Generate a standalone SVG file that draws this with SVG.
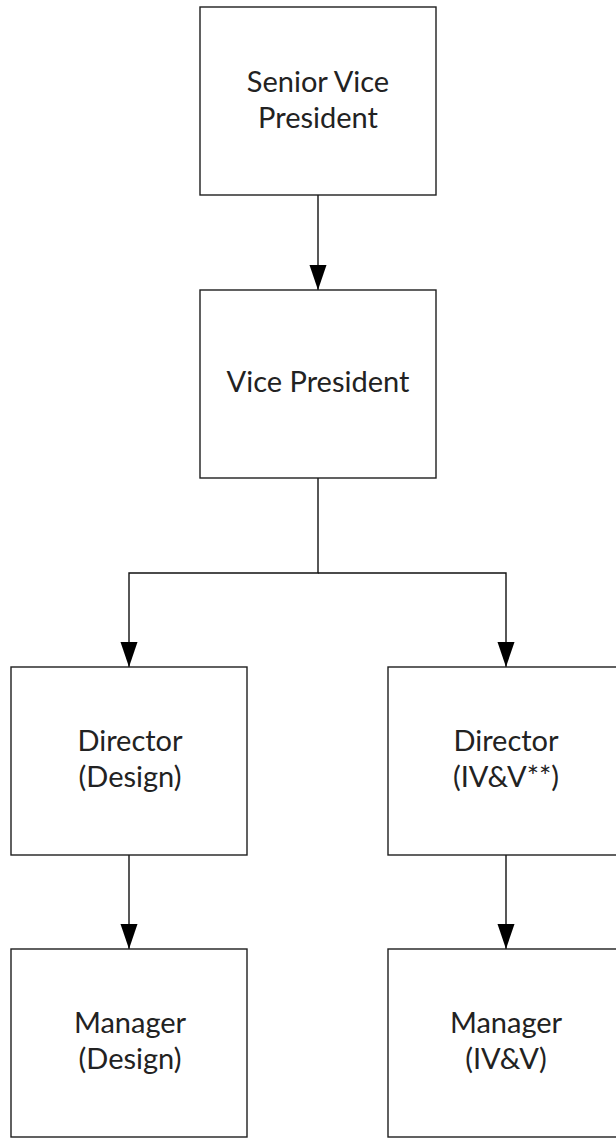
<svg xmlns="http://www.w3.org/2000/svg" width="616" height="1138" viewBox="0 0 616 1138">
  <style>
    .box { fill: #ffffff; stroke: #1f1f1f; stroke-width: 1.4; }
    .lbl { font-family: Lato, "Open Sans", "Liberation Sans", sans-serif; font-size: 29px; fill: #222222; text-anchor: middle; }
    .conn { fill: none; stroke: #111111; stroke-width: 1.4; }
  </style>
  <defs>
    <marker id="arrow" markerUnits="userSpaceOnUse" markerWidth="26" markerHeight="18" refX="25" refY="8.5" orient="auto" viewBox="0 0 26 18">
      <path d="M0,0 L25,8.5 L0,17 Z" fill="#000000"/>
    </marker>
  </defs>
  <rect width="616" height="1138" fill="#ffffff"/>

  <g id="connectors">
    <path class="conn" d="M318,195 V290" marker-end="url(#arrow)"/>
    <path class="conn" d="M318,478 V573 H129 V667" marker-end="url(#arrow)"/>
    <path class="conn" d="M318,573 H506 V667" marker-end="url(#arrow)"/>
    <path class="conn" d="M129,855 V949" marker-end="url(#arrow)"/>
    <path class="conn" d="M506,855 V949" marker-end="url(#arrow)"/>
  </g>

  <g id="senior-vp">
    <rect class="box" x="200" y="7" width="236" height="188"/>
    <text class="lbl" x="318" y="92">Senior Vice</text>
    <text class="lbl" x="318" y="128">President</text>
  </g>
  <g id="vp">
    <rect class="box" x="200" y="290" width="236" height="188"/>
    <text class="lbl" x="318" y="392">Vice President</text>
  </g>
  <g id="director-design">
    <rect class="box" x="11" y="667" width="236" height="188"/>
    <text class="lbl" x="130" y="751">Director</text>
    <text class="lbl" x="130" y="787">(Design)</text>
  </g>
  <g id="director-ivv">
    <rect class="box" x="388" y="667" width="236" height="188"/>
    <text class="lbl" x="506" y="751">Director</text>
    <text class="lbl" x="506" y="787">(IV&amp;V**)</text>
  </g>
  <g id="manager-design">
    <rect class="box" x="11" y="949" width="236" height="188"/>
    <text class="lbl" x="130" y="1033">Manager</text>
    <text class="lbl" x="130" y="1069">(Design)</text>
  </g>
  <g id="manager-ivv">
    <rect class="box" x="388" y="949" width="236" height="188"/>
    <text class="lbl" x="506" y="1033">Manager</text>
    <text class="lbl" x="506" y="1069">(IV&amp;V)</text>
  </g>
</svg>
